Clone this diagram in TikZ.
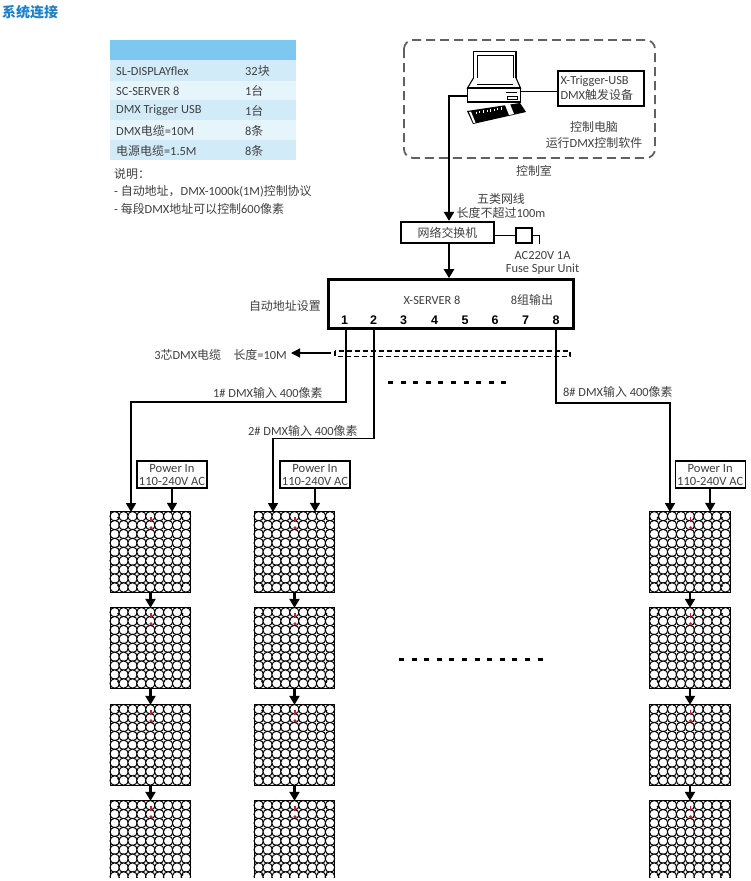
\documentclass[tikz,border=0pt]{standalone}
\usepackage{fontspec}
\setmainfont{Carlito}
\newfontfamily\cjk[Scale=0.965]{Noto Sans CJK SC}
\newfontfamily\portfont{Liberation Sans}
\usetikzlibrary{arrows.meta,calc}
\newcommand{\zh}[1]{{\cjk #1}}
\definecolor{titleblue}{HTML}{1F80C8}
\definecolor{headblue}{HTML}{7CC8EE}
\definecolor{rowa}{HTML}{D2EBF9}
\definecolor{rowb}{HTML}{E6F4FC}
\definecolor{txt}{HTML}{404040}
\definecolor{redmark}{HTML}{C8202A}
\tikzset{
  x=1pt,y=-1pt,
  lab/.style={font=\fontsize{12.4}{14}\selectfont,text=txt,inner sep=0pt},
  cell/.style={font=\fontsize{12.4}{14}\selectfont,text=txt,inner sep=0pt,anchor=west},
  thick line/.style={line width=2.4pt,draw=black,-{Triangle[length=9pt,width=10pt]}},
  thin line/.style={line width=1.7pt,draw=black,-{Triangle[length=9pt,width=10pt]}},
  boxed/.style={draw=black,fill=white,line width=1.3pt,inner sep=0pt,align=center,text=txt},
  panel/.style={minimum width=80pt,minimum height=80pt,inner sep=0pt,draw=none},
  port/.style={font=\portfont\fontsize{12.5}{14}\selectfont\bfseries,text=black,inner sep=0pt},
  gap dots/.style={line width=3pt,dash pattern=on 5pt off 7.6pt},
}
\newcommand{\panelart}[1]{%
  \begin{scope}
  \clip ($(#1.north west)+(-1,-1)$) rectangle ($(#1.south east)+(1,1)$);
  \foreach \r in {0,...,8}{
    \foreach \c in {0,...,8}{
      \draw[line width=1pt,fill=white] ($(#1.north west)+(4.45+8.9*\c,4.45+8.9*\r)$) circle[radius=4.75];
    }
  }
  \draw[line width=1.2pt] (#1.south west)--(#1.north west)--(#1.north east)--(#1.south east)--cycle;
  \foreach \dx/\dy in {8/6,72/6,8/74,72/74}{
    \fill ($(#1.north west)+(\dx,\dy)$) circle[radius=1.2];
  }
  \fill[redmark] ($(#1.north)+(0.5,16)$) circle[radius=1.7];
  \draw[redmark,line width=1.4pt] ($(#1.north)+(0.5,5)$)--($(#1.north)+(0.5,10)$);
  \end{scope}}
\begin{document}
\begin{tikzpicture}
\useasboundingbox (0,0) rectangle (750,881);
\fill[white] (0,0) rectangle (750,881);
% title
\node[anchor=west,inner sep=0pt,text=titleblue,font=\cjk\fontsize{14.5}{16}\selectfont\bfseries] (title) at (2,12) {系统连接};
% table
\fill[headblue] (110,40) rectangle (296,60);
\fill[rowa] (110,60) rectangle (296,81);
\fill[rowb] (110,81) rectangle (296,100);
\fill[rowa] (110,100) rectangle (296,120);
\fill[rowb] (110,120) rectangle (296,140);
\fill[rowa] (110,140) rectangle (296,160);
\node[cell] (t1a) at (116,71.5) {SL-DISPLAYflex};
\node[cell] (t1b) at (245,71.5) {32\zh{块}};
\node[cell] (t2a) at (116,91) {SC-SERVER 8};
\node[cell] (t2b) at (245,91) {1\zh{台}};
\node[cell] (t3a) at (116,110.5) {DMX Trigger USB};
\node[cell] (t3b) at (245,110.5) {1\zh{台}};
\node[cell] (t4a) at (116,130.5) {DMX\zh{电缆}=10M};
\node[cell] (t4b) at (245,130.5) {8\zh{条}};
\node[cell] (t5a) at (116,150.5) {\zh{电源电缆}=1.5M};
\node[cell] (t5b) at (245,150.5) {8\zh{条}};
\node[cell] (n1) at (114,173.5) {\zh{说明：}};
\node[cell] (n2) at (114,191.5) {- \zh{自动地址，}DMX-1000k(1M)\zh{控制协议}};
\node[cell] (n3) at (114,209) {- \zh{每段}DMX\zh{地址可以控制}600\zh{像素}};
% control room
\draw[line width=1.8pt,draw=black!62,dash pattern=on 9pt off 5pt,rounded corners=9pt] (404,40) rectangle (655,158);
\node[lab] (room) at (534,171) {\zh{控制室}};
% computer
\draw[line width=1.2pt,fill=white] (473.5,51.5) rectangle (516,85);
\draw[line width=1pt,fill=white] (477,55.5) rectangle (513,83);
\fill (510.5,82) circle[radius=1.4];
\draw[line width=1.1pt,fill=white] (473.5,78)--(467.5,88)--(520.5,88)--(516,78);
\draw[line width=1pt,fill=white] (477,84)--(513,84);
\draw[line width=1.2pt,fill=white] (467.5,88) rectangle (520.5,102);
\draw[line width=0.8pt] (506,92.5)--(517,92.5);
\draw[line width=0.8pt] (507,96) rectangle (517,99.5);
\fill[black] (467,111)--(520,103)--(526,112)--(473,124)--cycle;
\fill[white] (505,105)--(510,104)--(514,114)--(509,115)--cycle;
\fill[white] (469,112)--(471,111.7)--(475.5,122.5)--(473.5,123)--cycle;
\foreach \i in {0,...,7}{\draw[white,line width=0.4pt] (476+3.6*\i,111.5-0.6*\i)--(476+3.6*\i,114-0.6*\i);}
\coordinate (pcright) at (520.5,91);
\coordinate (pcleft) at (467.5,96);
% trigger box
\node[boxed,text width=81pt,minimum width=86pt,minimum height=35pt,font=\fontsize{12.4}{15}\selectfont,align=left] (trig) at (601,88.5) {X-Trigger-USB\\DMX\zh{触发设备}};
\draw[line width=1pt] (pcright)--(trig.west |- pcright);
\node[lab,align=center,font=\fontsize{12.4}{15.5}\selectfont] (pcl) at (594,135) {\zh{控制电脑}\\\zh{运行}DMX\zh{控制软件}};
% switch
\node[boxed,line width=2.2pt,minimum width=93pt,minimum height=21pt,font=\fontsize{12.4}{14}\selectfont] (sw) at (447.5,232.5) {\zh{网络交换机}};
\coordinate (swin) at ($(sw.north)+(1.5,0)$);
\coordinate (swout) at ($(sw.south)+(1.5,0)$);
\draw[thick line] (pcleft)-|(swin);
\node[lab,align=center,font=\fontsize{12.4}{14}\selectfont] (cat) at (501,205.5) {\zh{五类网线}\\\zh{长度不超过}100m};
% fuse
\node[draw=black,fill=white,line width=1.2pt,minimum width=16pt,minimum height=15pt,inner sep=0pt] (fuse) at (524,235.5) {};
\draw[line width=1.3pt] (sw.east |- fuse.west)--(fuse.west);
\coordinate (fuseend) at (539.5,244);
\draw[line width=1.3pt] (fuse.east)-|(fuseend);
\node[lab,align=center,font=\fontsize{12.4}{12.5}\selectfont] (acl) at (542.5,263) {AC220V 1A\\Fuse Spur Unit};
% server
\node[draw=black,fill=white,line width=2.6pt,minimum width=245pt,minimum height=49pt,inner sep=0pt] (srv) at (451,304) {};
\coordinate (srvin) at (swout |- srv.north);
\draw[thick line] (swout)--(srvin);
\node[lab] (srvname) at (432,300) {X-SERVER 8};
\node[lab] (srv8) at (532,300) {8\zh{组输出}};
\node[lab,anchor=east] (auto) at (321,306) {\zh{自动地址设置}};
\node[port] (p1) at (344.5,320.5) {1};
\node[port] (p2) at (373.5,320.5) {2};
\node[port] (p3) at (403.5,320.5) {3};
\node[port] (p4) at (434.5,320.5) {4};
\node[port] (p5) at (465,320.5) {5};
\node[port] (p6) at (495,320.5) {6};
\node[port] (p7) at (525.5,320.5) {7};
\node[port] (p8) at (556,320.5) {8};
% sleeve
\coordinate (slv) at (331,353);
\coordinate (slvtip) at (291,353);
\draw[line width=1.3pt,dash pattern=on 5pt off 3pt] (335,351) rectangle (570,356.5);
\node[lab,anchor=east] (cable) at (287,355) {3\zh{芯}DMX\zh{电缆}\quad\zh{长度}=10M};
\draw[line width=1.3pt,-{Triangle[length=9pt,width=9pt]}] (slv)--(slvtip);
% gap marks
\coordinate (gapa) at (388,382.5);
\coordinate (gapb) at (512,382.5);
\coordinate (gapc) at (399,659);
\coordinate (gapd) at (546,659);
\draw[gap dots] (gapa)--(gapb);
\draw[gap dots] (gapc)--(gapd);
% panels
\foreach \nm/\x in {a/150.5,b/294.5,c/690}{
  \foreach \k/\y in {1/552,2/648,3/745,4/841}{
    \node[panel] (\nm\k) at (\x,\y) {};
    \panelart{\nm\k}
  }
  \draw[thick line] (\nm1.south)--(\nm2.north);
  \draw[thick line] (\nm2.south)--(\nm3.north);
  \draw[thick line] (\nm3.south)--(\nm4.north);
}
\fill[white] (0,877.5) rectangle (750,881);
% power boxes
\foreach \nm/\cx in {a/172,b/315,c/710.2}{
  \node[boxed,minimum width=70pt,minimum height=27pt,font=\fontsize{12.6}{13}\selectfont] (pw\nm) at (\cx,474.5) {Power In\\110-240V AC};
  \draw[line width=1.7pt,-{Triangle[length=9pt,width=10pt]}] (pw\nm.south)--(pw\nm.south |- \nm1.north);
}
% DMX feeds
\coordinate (w1) at (346,329);
\coordinate (w2) at (374,329);
\coordinate (w8) at (556,329);
\coordinate (ta) at (131,512);
\coordinate (tb) at (273,512);
\coordinate (tc) at (670,512);
\draw[thin line] (w1)--(346,402)-|(ta);
\draw[thin line] (w2)--(374,438.6)-|(tb);
\draw[thin line] (w8)--(556,403)-|(tc);
\node[lab,anchor=west] (l1) at (213,393) {1\# DMX\zh{输入} 400\zh{像素}};
\node[lab,anchor=west] (l2) at (248,431) {2\# DMX\zh{输入} 400\zh{像素}};
\node[lab,anchor=west] (l8) at (563,392) {8\# DMX\zh{输入} 400\zh{像素}};
\end{tikzpicture}
\end{document}
